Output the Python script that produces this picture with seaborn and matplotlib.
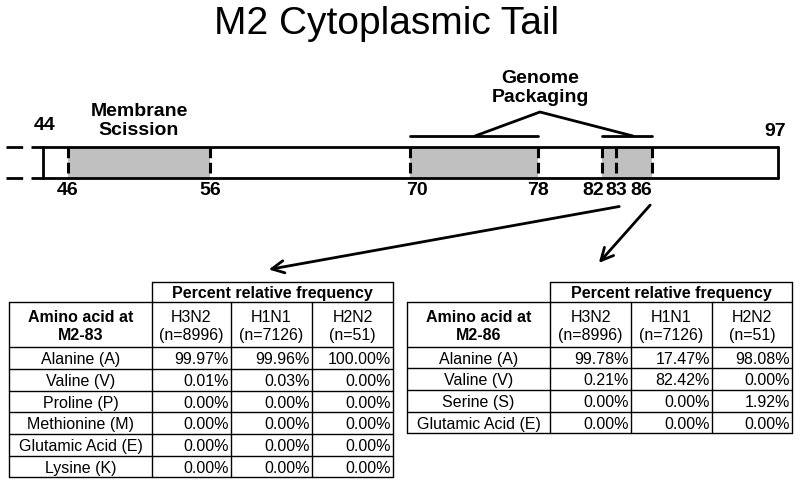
import matplotlib
matplotlib.use("Agg")
import matplotlib.pyplot as plt
import seaborn as sns
from matplotlib.patches import Rectangle

# residues shown on the schematic and where they sit on the (non-linear) drawing
residues = [44, 46, 56, 70, 78, 82, 83, 86, 97]
residue_x = [43, 68, 210, 410, 538, 602, 616, 652, 778]
shaded = [(46, 56), (70, 78), (82, 86)]
dashed = [46, 56, 70, 78, 82, 83, 86]
label_nudge = {70: 7, 82: -9, 86: -11}

subtypes = ["H3N2\n(n=8996)", "H1N1\n(n=7126)", "H2N2\n(n=51)"]

aa_83 = ["Alanine (A)", "Valine (V)", "Proline (P)", "Methionine (M)",
         "Glutamic Acid (E)", "Lysine (K)"]
h3n2_83 = [99.97, 0.01, 0.00, 0.00, 0.00, 0.00]
h1n1_83 = [99.96, 0.03, 0.00, 0.00, 0.00, 0.00]
h2n2_83 = [100.00, 0.00, 0.00, 0.00, 0.00, 0.00]

aa_86 = ["Alanine (A)", "Valine (V)", "Serine (S)", "Glutamic Acid (E)"]
h3n2_86 = [99.78, 0.21, 0.00, 0.00]
h1n1_86 = [17.47, 82.42, 0.00, 0.00]
h2n2_86 = [98.08, 0.00, 1.92, 0.00]

sns.set_theme(style="white")
plt.rcParams["font.family"] = ["Liberation Sans", "DejaVu Sans"]
plt.rcParams["text.color"] = "black"

pos = dict(zip(residues, residue_x))


def draw_table(ax, left, cols, rows_y, title, names, series):
    """Dibuja una tabla de frecuencias con lineas y texto."""
    lw = 1.0
    top, head_bot = rows_y[0], rows_y[1]
    bottom = rows_y[-1]
    # outer and inner lines
    ax.plot([cols[0], cols[-1]], [top, top], color="black", lw=lw)
    ax.plot([cols[0], cols[0]], [top, bottom], color="black", lw=lw)
    ax.plot([cols[-1], cols[-1]], [top, bottom], color="black", lw=lw)
    ax.plot([left, cols[-1]], [head_bot, head_bot], color="black", lw=lw)
    ax.plot([left, left], [head_bot, bottom], color="black", lw=lw)
    for c in cols[1:-1]:
        ax.plot([c, c], [head_bot, bottom], color="black", lw=lw)
    for r in rows_y[2:]:
        ax.plot([left, cols[-1]], [r, r], color="black", lw=lw)

    ax.text((cols[0] + cols[-1]) / 2, (top + head_bot) / 2 + 1,
            "Percent relative frequency", ha="center", va="center",
            fontsize=11.5, fontweight="bold")
    ax.text((left + cols[0]) / 2, (head_bot + rows_y[2]) / 2 + 1,
            "Amino acid at\n" + title, ha="center", va="center",
            fontsize=11.5, fontweight="bold", linespacing=1.25)
    for i, s in enumerate(subtypes):
        ax.text((cols[i] + cols[i + 1]) / 2, (head_bot + rows_y[2]) / 2 + 1,
                s, ha="center", va="center", fontsize=11.5, linespacing=1.2)
    for j, name in enumerate(names):
        yc = (rows_y[j + 2] + rows_y[j + 3]) / 2 + 1
        ax.text((left + cols[0]) / 2, yc, name, ha="center", va="center",
                fontsize=11.5)
        for i, vals in enumerate(series):
            ax.text(cols[i + 1] - 2, yc, f"{vals[j]:.2f}%", ha="right",
                    va="center", fontsize=11.5)


fig = plt.figure(figsize=(8, 4.85), dpi=100)
ax = fig.add_axes([0, 0, 1, 1])
ax.set_xlim(0, 800)
ax.set_ylim(485, 0)
ax.axis("off")

ax.text(387, 24, "M2 Cytoplasmic Tail", ha="center", va="center", fontsize=28)

# tail schematic
y_top, y_bot = 148, 179
for a, b in shaded:
    ax.add_patch(Rectangle((pos[a], y_top), pos[b] - pos[a], y_bot - y_top,
                           facecolor="#c0c0c0", edgecolor="none"))
ax.plot([pos[44], pos[97]], [y_top, y_top], color="black", lw=2)
ax.plot([pos[44], pos[97]], [y_bot, y_bot], color="black", lw=2)
ax.plot([pos[44], pos[44]], [y_top, y_bot], color="black", lw=2)
ax.plot([pos[97], pos[97]], [y_top, y_bot], color="black", lw=2)
for yy in (y_top, y_bot):
    ax.plot([6, pos[44]], [yy, yy], color="black", lw=2, dashes=(6, 3))
for r in dashed:
    ax.plot([pos[r], pos[r]], [y_top, y_bot], color="black", lw=2.2,
            dashes=(3.5, 1.5))

for r in dashed:
    ax.text(pos[r] + label_nudge.get(r, 0), 191, str(r), ha="center",
            va="center", fontsize=14, fontweight="bold")
ax.text(45, 126, "44", ha="center", va="center", fontsize=14, fontweight="bold")
ax.text(775, 132, "97", ha="center", va="center", fontsize=14, fontweight="bold")

ax.text(139, 121, "Membrane\nScission", ha="center", va="center",
        fontsize=14, fontweight="bold", linespacing=1.1)
ax.text(540, 88, "Genome\nPackaging", ha="center", va="center",
        fontsize=14, fontweight="bold", linespacing=1.1)

# genome packaging brackets
ax.plot([pos[70], pos[78]], [137, 137], color="black", lw=2)
ax.plot([pos[82], pos[86]], [137, 137], color="black", lw=2)
ax.plot([475, 540, 633], [137, 113, 137], color="black", lw=2)

# arrows to the tables
ax.annotate("", xy=(266, 271), xytext=(622, 207),
            arrowprops=dict(arrowstyle="->", color="black", lw=2,
                            mutation_scale=22))
ax.annotate("", xy=(597, 266), xytext=(652, 204),
            arrowprops=dict(arrowstyle="->", color="black", lw=2,
                            mutation_scale=22))

draw_table(ax, 9, [152, 231, 312, 393],
           [283, 303, 348, 370, 392, 413, 435, 457, 478],
           "M2-83", aa_83, [h3n2_83, h1n1_83, h2n2_83])
draw_table(ax, 407, [550, 631, 712, 792],
           [283, 303, 348, 369, 391, 413, 434],
           "M2-86", aa_86, [h3n2_86, h1n1_86, h2n2_86])

fig.savefig("out.png", dpi=100)
